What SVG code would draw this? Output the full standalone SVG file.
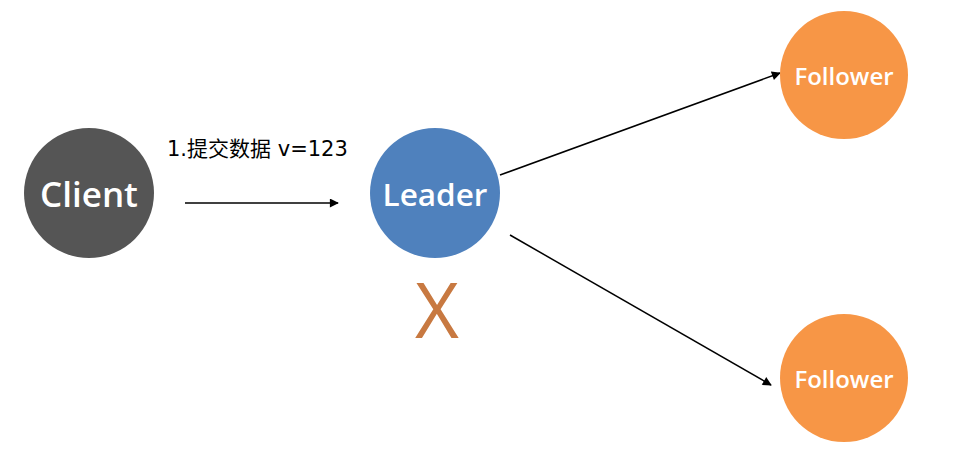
<svg xmlns="http://www.w3.org/2000/svg" width="978" height="460" viewBox="0 0 978 460">
<style>
.node-label{font-family:"Open Sans","Noto Sans",sans-serif;font-weight:600;fill:#ffffff;text-anchor:middle;dominant-baseline:central}
.edge{stroke:#000000;stroke-width:1.5;fill:none;marker-end:url(#arrow)}
.lbl{font-family:"DejaVu Sans","Noto Sans CJK SC",sans-serif;font-size:21px;fill:#000000}
</style>
<defs>
<marker id="arrow" viewBox="0 0 10 10" refX="9" refY="5" markerWidth="10" markerHeight="9" markerUnits="userSpaceOnUse" orient="auto">
<path d="M0,0 L10,5 L0,10 z" fill="#000000"/>
</marker>
</defs>
<rect width="978" height="460" fill="#ffffff"/>
<g id="connectors">
<line class="edge" x1="185" y1="203" x2="338" y2="203"/>
<line class="edge" x1="500" y1="175" x2="780" y2="73"/>
<line class="edge" x1="510" y1="235" x2="771" y2="385"/>
</g>
<g id="label">
<text class="lbl" x="167" y="156">1.提交数据 v=123</text>
</g>
<g id="client">
<circle cx="89" cy="193" r="65" fill="#555555"/>
<text class="node-label" x="89" y="193" font-size="35">Client</text>
</g>
<g id="leader">
<circle cx="435" cy="193" r="65" fill="#4F81BD"/>
<text class="node-label" x="435" y="193" font-size="31.5">Leader</text>
</g>
<g id="follower1">
<circle cx="844" cy="75" r="64" fill="#F79646"/>
<text class="node-label" x="844" y="75" font-size="24">Follower</text>
</g>
<g id="follower2">
<circle cx="844" cy="378" r="64" fill="#F79646"/>
<text class="node-label" x="844" y="378" font-size="24">Follower</text>
</g>
<g id="fail-mark">
<text x="437" y="338" font-family="Open Sans,Noto Sans,sans-serif" font-size="76" fill="#C87941" text-anchor="middle">X</text>
</g>
</svg>
